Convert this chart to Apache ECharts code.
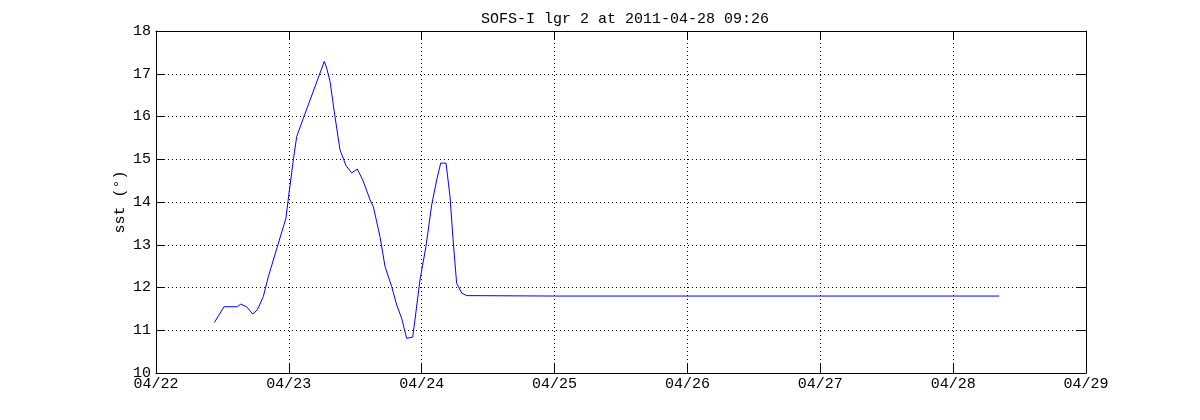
<!DOCTYPE html>
<html><head><meta charset="utf-8">
<script src="https://cdn.jsdelivr.net/npm/echarts@6/dist/echarts.min.js"></script>
<style>html,body{margin:0;padding:0;background:#fff}#c{width:1200px;height:420px}</style>
</head><body><div id="c"></div>
<script>
// day of April 2011 (fractional)
const times = [22.439,22.512,22.612,22.637,22.682,22.728,22.763,22.808,22.846,22.978,23.003,23.034,23.059,23.109,23.267,23.285,23.310,23.347,23.385,23.430,23.473,23.515,23.556,23.611,23.636,23.686,23.724,23.774,23.812,23.849,23.887,23.932,23.949,23.987,24.032,24.075,24.113,24.143,24.183,24.213,24.238,24.263,24.301,24.339,25.0,26.0,27.0,28.0,28.347];
const sst   = [11.18,11.55,11.55,11.61,11.55,11.38,11.48,11.79,12.26,13.62,14.25,14.99,15.53,15.96,17.29,17.13,16.82,16.00,15.22,14.85,14.68,14.77,14.52,14.05,13.89,13.19,12.49,12.02,11.59,11.28,10.81,10.84,11.24,12.18,12.96,13.93,14.52,14.91,14.91,14.13,13.04,12.10,11.87,11.81,11.80,11.80,11.80,11.80,11.80];
const xTicks = [22,23,24,25,26,27,28,29];
const yTicks = [10,11,12,13,14,15,16,17,18];
const title = 'SOFS-I lgr 2 at 2011-04-28 09:26';
const yName = 'sst (°)';

const FONT = 'Liberation Mono';
const grid = {left:156, right:114, top:31, bottom:47};
const gridLine = {show:true, lineStyle:{color:'#000', type:[1,3], width:1}};
const tick = {show:true, inside:true, length:9, lineStyle:{color:'#000'}};
const axLine = {show:true, lineStyle:{color:'#000', width:1}};
const chart = echarts.init(document.getElementById('c'), null, {renderer:'canvas'});
chart.setOption({
  animation:false,
  backgroundColor:'#fff',
  title:{text:title, left:620, textAlign:'center', top:7, textStyle:{fontFamily:FONT, fontSize:15, fontWeight:'normal', color:'#000'}},
  grid:grid,
  xAxis:[{type:'value', min:xTicks[0], max:xTicks[xTicks.length-1], interval:1,
    axisLine:axLine, axisTick:tick, splitLine:gridLine,
    axisLabel:{formatter:v=>'04/'+v, color:'#000', fontFamily:FONT, fontSize:15, margin:4}},
   {type:'value', position:'top', min:xTicks[0], max:xTicks[xTicks.length-1], interval:1,
    axisLine:axLine, axisTick:tick, splitLine:{show:false}, axisLabel:{show:false}}],
  yAxis:[{type:'value', min:yTicks[0], max:yTicks[yTicks.length-1], interval:1,
    name:yName, nameLocation:'middle', nameGap:28, nameRotate:90, nameMoveOverlap:false,
    nameTextStyle:{fontFamily:FONT, fontSize:15, color:'#000'},
    axisLine:axLine, axisTick:tick, splitLine:gridLine,
    axisLabel:{color:'#000', fontFamily:FONT, fontSize:15, margin:5}},
   {type:'value', position:'right', min:yTicks[0], max:yTicks[yTicks.length-1], interval:1,
    axisLine:axLine, axisTick:tick, splitLine:{show:false}, axisLabel:{show:false}}],
  series:[{type:'line', data:times.map((t,i)=>[t,sst[i]]), showSymbol:false, symbol:'none',
    lineStyle:{color:'#0000ff', width:1}, itemStyle:{color:'#0000ff'}}]
});
</script></body></html>
